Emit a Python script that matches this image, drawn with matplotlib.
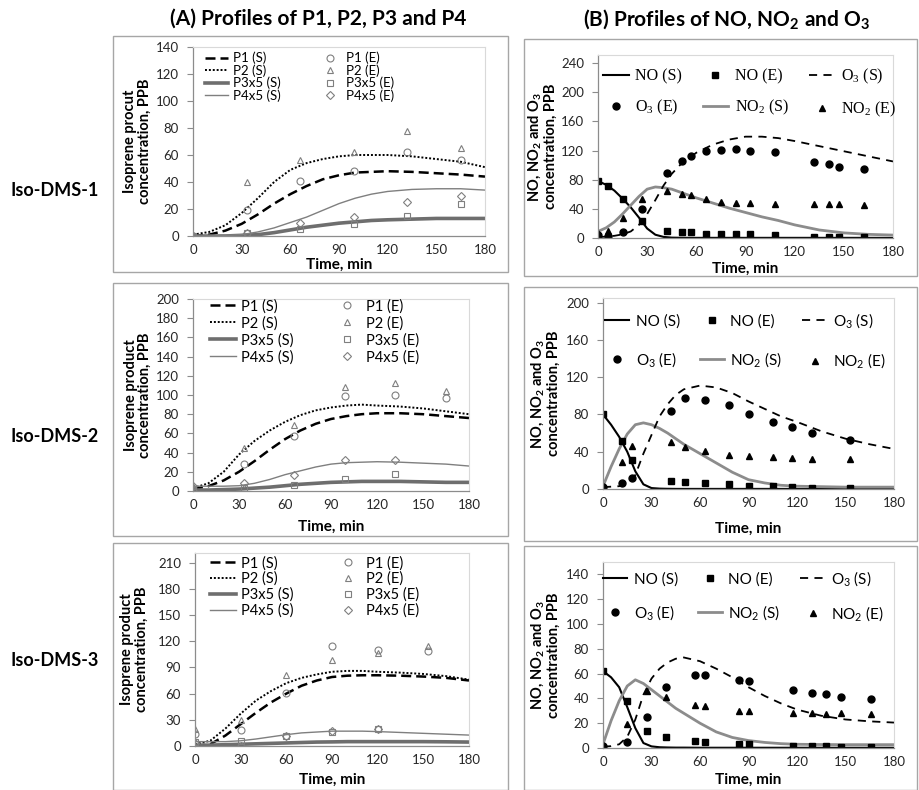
import matplotlib
matplotlib.use("Agg")
import matplotlib.pyplot as plt
from matplotlib.patches import Rectangle

plt.rcParams['font.family'] = ['Lato', 'DejaVu Sans']

W, H = 920, 790

# ---------------- data: (A) isoprene products ----------------
sim_t = [0, 10, 20, 30, 40, 50, 60, 70, 80, 90, 100, 110, 120, 135, 150, 165, 180]

a1_p1_s = [0, 1, 4, 9, 16, 24, 31, 37, 42, 45, 47, 47.5, 48, 47.5, 46.5, 45.5, 44]
a1_p2_s = [1, 3, 8, 17, 28, 40, 49, 54, 57, 59, 60, 60, 60, 59, 57, 55, 51]
a1_p3_s = [0, 0, 0, 0.5, 1, 2.5, 4.5, 6.5, 8, 9.5, 10.5, 11.5, 12, 12.5, 13, 13, 13]
a1_p4_s = [0, 0, 0.5, 1, 3, 6, 10, 14, 19, 24, 28, 31, 33, 34.5, 35, 35, 34]
a1_t_e = [0, 33, 66, 99, 132, 165]
a1_p1_e = [0, 19, 41, 48, 62, 56]
a1_p2_e = [1, 40, 56, 62, 78, 65]
a1_p3_e = [0, 2, 5, 9, 15, 24]
a1_p4_e = [0, 2, 10, 14, 25, 30]

a2_p1_s = [2, 5, 11, 20, 31, 43, 54, 63, 70, 75, 78, 80, 81, 81, 80, 78, 76]
a2_p2_s = [3, 8, 20, 38, 52, 63, 72, 79, 84, 87, 89, 90, 89, 88, 86, 83, 80]
a2_p3_s = [1, 1, 1.5, 2, 3, 4, 5.5, 7, 8, 9, 9.5, 10, 10, 10, 9.5, 9, 9]
a2_p4_s = [5, 5, 5, 5.5, 8, 12, 17, 21, 25, 28, 29.5, 30, 30.5, 30, 29, 28, 26]
a2_t_e = [0, 33, 66, 99, 132, 165]
a2_p1_e = [0, 28, 57, 99, 100, 97]
a2_p2_e = [5, 45, 69, 108, 112, 104]
a2_p3_e = [1, 3, 6, 12, 18]
a2_p4_e = [5, 8, 17, 32, 32]

a3_p1_s = [0, 2, 12, 25, 38, 50, 60, 69, 75, 79, 80.5, 81, 81, 80.5, 79.5, 78, 75]
a3_p2_s = [2, 6, 20, 37, 52, 63, 72, 78, 82, 85, 86, 86, 85, 84, 82.5, 80, 76]
a3_p3_s = [1, 1, 1.5, 2, 2.5, 3, 3.5, 4, 4.5, 4.7, 5, 5, 5, 5, 5, 4.8, 4.5]
a3_p4_s = [5, 5, 5, 6, 8, 10.5, 13, 15, 16, 17, 17, 17, 16.5, 15.5, 14.5, 13.5, 12.5]
a3_t_e = [0, 30, 60, 90, 120, 153]
a3_p1_e = [14, 18, 61, 115, 110, 109]
a3_p2_e = [19, 30, 81, 99, 107, 114]
a3_p3_e = [5, 6, 12, 16, 19]
a3_p4_e = [3, 0, 11, 17, 20]

# ---------------- data: (B) NO, NO2, O3 ----------------
bt = [0, 5, 10, 15, 20, 25, 30, 35, 40, 45, 50, 60, 70, 80, 90, 100, 110, 120, 135, 150, 165, 180]

b1_no_s = [78, 73, 65, 54, 42, 28, 13, 4.5, 1.5, 0.5, 0.3, 0.2, 0.2, 0.2, 0.2, 0.2, 0.2, 0.2, 0.2, 0.2, 0.2, 0.2]
b1_no2_s = [9, 14, 22, 33, 45, 57, 67, 70, 69, 67, 63, 55, 48, 41, 35, 29, 24, 18, 11, 7, 5, 4]
b1_o3_s = [1, 2, 3, 5, 9, 18, 33, 52, 72, 88, 100, 117, 128, 135, 139, 139, 137, 133, 126, 119, 112, 105]
b1_t_e = [0, 6, 15, 27, 42, 51, 57, 66, 75, 84, 93, 108, 132, 141, 147, 162]
b1_no_e = [78, 71, 53, 23, 10, 8, 8, 6, 5, 5, 5, 4, 2, 2, 2, 2]
b1_o3_e = [4, 3, 8, 40, 89, 105, 112, 119, 121, 122, 120, 118, 104, 101, 98, 94]
b1_no2_e = [7, 10, 27, 54, 65, 61, 59, 54, 50, 48, 48, 46, 46, 46, 46, 45]

b2_no_s = [80, 69, 56, 40, 19, 5, 1, 0.4, 0.2, 0.1, 0.1, 0.1, 0.1, 0.1, 0.1, 0.1, 0.1, 0.1, 0.1, 0.1, 0.1, 0.1]
b2_no2_s = [3, 24, 43, 59, 69, 71, 69, 65, 60, 54, 48, 38, 28, 18, 10, 6.5, 4, 3, 2.5, 2, 2, 2]
b2_o3_s = [2, 2.5, 3, 6, 15, 38, 58, 78, 91, 101, 107, 111, 109, 103, 94, 86, 78, 72, 62, 54, 48, 43]
b2_t_e = [0, 12, 18, 42, 51, 63, 78, 90, 105, 117, 129, 153]
b2_no_e = [80, 51, 31, 9, 8, 6, 5, 3.5, 3, 2.5, 1.5, 1]
b2_o3_e = [2.5, 6, 12, 84, 98, 96, 90, 81, 72, 67, 60, 53]
b2_no2_e = [3, 29, 46, 50, 45, 41, 36, 35, 34.5, 33, 32, 32]

b3_no_s = [62, 57, 49, 33, 16, 4, 1.3, 0.6, 0.4, 0.3, 0.3, 0.2, 0.2, 0.2, 0.2, 0.2, 0.2, 0.2, 0.2, 0.2, 0.2, 0.2]
b3_no2_s = [3, 22, 38, 50, 55, 52, 47, 42, 37, 32, 28, 20, 13, 8.5, 6, 4.5, 3.5, 3, 2.8, 2.7, 2.7, 2.7]
b3_o3_s = [1, 1.5, 3, 9, 23, 43, 56, 64, 69, 72, 73, 70, 64, 57, 49, 42, 36, 31, 26, 23, 21.5, 20.5]
b3_t_e = [0, 15, 27.5, 39, 57, 63, 84, 90.5, 117.5, 129.5, 138, 147.5, 165.5]
b3_no_e = [62, 38, 14, 8.5, 6, 5, 3.5, 3.2, 2, 2, 1.3, 0.5, 0.5]
b3_o3_e = [2, 5, 25, 49, 59, 59, 55, 54, 47, 44.5, 43.5, 41.5, 39.5]
b3_no2_e = [2, 19, 46, 41, 35, 34, 30, 30, 28.5, 28, 27.5, 28.5, 27.5]

x_ticks = [0, 30, 60, 90, 120, 150, 180]

fig = plt.figure(figsize=(W / 100, H / 100), dpi=100)


def fr(x0, y0, x1, y1):
    # pixel box (top-left origin) -> figure fraction rect
    return [x0 / W, 1 - y1 / H, (x1 - x0) / W, (y1 - y0) / H]


# chart frames like in the Excel screenshot
for box in [(113, 36, 508, 272), (524, 39, 917, 276),
            (113, 283, 508, 536), (524, 287, 917, 541),
            (113, 543, 508, 790), (524, 546, 917, 790)]:
    x0, y0, x1, y1 = box
    fig.add_artist(Rectangle((x0 / W, 1 - y1 / H), (x1 - x0) / W, (y1 - y0) / H,
                             transform=fig.transFigure, fill=False,
                             edgecolor='#a6a6a6', lw=1.0))


def style_axes(ax, ymax, ystep, ytop):
    ax.set_xlim(0, 180)
    ax.set_ylim(0, ytop)
    ax.set_xticks(x_ticks)
    ax.set_yticks(list(range(0, ymax + 1, ystep)))
    for s in ['top', 'right']:
        ax.spines[s].set_color('#d9d9d9')
        ax.spines[s].set_linewidth(0.8)
    for s in ['left', 'bottom']:
        ax.spines[s].set_color('#8c8c8c')
        ax.spines[s].set_linewidth(0.9)
    ax.tick_params(axis='y', direction='out', length=4, width=0.8, color='#8c8c8c',
                   pad=6, labelsize=9.5, labelcolor='#262626')
    ax.tick_params(axis='x', length=0, pad=6, labelsize=9.5, labelcolor='#262626')


gray_e = '#7f7f7f'


def panel_a(rect, p1, p2, p3, p4, te, p1e, p2e, p3e, p4e, ymax, ystep, ytop,
            ylabel, ylab_x, xlab_y, leg_xy, leg_fs, leg_sp):
    ax = fig.add_axes(rect)
    l1, = ax.plot(sim_t, p1, color='black', lw=1.8, dashes=(4, 2))
    l2, = ax.plot(sim_t, p2, color='black', lw=1.4, linestyle=(0, (1, 1)))
    l3, = ax.plot(sim_t, p3, color='#6e6e6e', lw=2.6)
    l4, = ax.plot(sim_t, p4, color='#7f7f7f', lw=1.0)
    mk = dict(linestyle='none', mfc='none', mec=gray_e, mew=0.8)
    m1, = ax.plot(te, p1e, marker='o', ms=5, **mk)
    m2, = ax.plot(te, p2e, marker='^', ms=5, **mk)
    m3, = ax.plot(te[:len(p3e)], p3e, marker='s', ms=5, **mk)
    m4, = ax.plot(te[:len(p4e)], p4e, marker='D', ms=4, **mk)
    style_axes(ax, ymax, ystep, ytop)
    ax.set_ylabel(ylabel, fontsize=10.5, fontweight='bold', va='center', linespacing=1.05)
    ax.yaxis.set_label_coords(ylab_x, 0.5)
    ax.set_xlabel('Time, min', fontsize=11, fontweight='bold', va='center')
    ax.xaxis.set_label_coords(0.5, xlab_y)
    ax.legend([l1, l2, l3, l4, m1, m2, m3, m4],
              ['P1 (S)', 'P2 (S)', 'P3x5 (S)', 'P4x5 (S)',
               'P1 (E)', 'P2 (E)', 'P3x5 (E)', 'P4x5 (E)'],
              ncol=2, loc='upper left', bbox_to_anchor=leg_xy, frameon=False,
              fontsize=leg_fs, borderpad=0, borderaxespad=0, handlelength=1.8,
              handletextpad=0.35, columnspacing=2.8, labelspacing=leg_sp)
    return ax


def panel_b(rect, no_s, no2_s, o3_s, te, no_e, o3_e, no2_e, ymax, ystep, ytop,
            ylab_x, xlab_y, leg_xy, leg_sp, serif):
    ax = fig.add_axes(rect)
    h_no, = ax.plot(bt, no_s, color='black', lw=1.5)
    h_no2, = ax.plot(bt, no2_s, color='#8c8c8c', lw=2.0)
    h_o3, = ax.plot(bt, o3_s, color='black', lw=1.3, dashes=(4.5, 3.5))
    e_no, = ax.plot(te, no_e, 's', color='black', ms=5, linestyle='none')
    e_o3, = ax.plot(te, o3_e, 'o', color='black', ms=5, linestyle='none')
    e_no2, = ax.plot(te, no2_e, '^', color='black', ms=4.5, linestyle='none')
    style_axes(ax, ymax, ystep, ytop)
    ax.set_ylabel('NO, NO$\\mathregular{_2}$ and O$\\mathregular{_3}$\nconcentration, PPB',
                  fontsize=10.5, fontweight='bold', va='center', linespacing=1.05)
    ax.yaxis.set_label_coords(ylab_x, 0.5)
    ax.set_xlabel('Time, min', fontsize=11, fontweight='bold', va='center')
    ax.xaxis.set_label_coords(0.5, xlab_y)
    if serif:
        prop = {'family': ['Liberation Serif', 'DejaVu Serif'], 'size': 11.5}
    else:
        prop = {'size': 11}
    ax.legend([h_no, e_o3, e_no, h_no2, h_o3, e_no2],
              ['NO (S)', 'O$\\mathregular{_3}$ (E)', 'NO (E)',
               'NO$\\mathregular{_2}$ (S)', 'O$\\mathregular{_3}$ (S)',
               'NO$\\mathregular{_2}$ (E)'],
              ncol=3, loc='upper left', bbox_to_anchor=leg_xy, frameon=False,
              prop=prop, borderpad=0, borderaxespad=0, handlelength=1.6,
              handletextpad=0.4, columnspacing=1.3, labelspacing=leg_sp)
    return ax


panel_a(fr(193, 47, 485, 236), a1_p1_s, a1_p2_s, a1_p3_s, a1_p4_s,
        a1_t_e, a1_p1_e, a1_p2_e, a1_p3_e, a1_p4_e, 140, 20, 140,
        'Isoprene procut\nconcentration, PPB', -0.19, -0.152, (0.04, 0.975), 9.5, 0.0)
panel_a(fr(193, 299, 469, 491), a2_p1_s, a2_p2_s, a2_p3_s, a2_p4_s,
        a2_t_e, a2_p1_e, a2_p2_e, a2_p3_e, a2_p4_e, 200, 20, 200,
        'Isoprene product\nconcentration, PPB', -0.2, -0.1875, (0.06, 1.0), 10.5, 0.18)
panel_a(fr(195, 553, 469, 746), a3_p1_s, a3_p2_s, a3_p3_s, a3_p4_s,
        a3_t_e, a3_p1_e, a3_p2_e, a3_p3_e, a3_p4_e, 210, 30, 221,
        'Isoprene product\nconcentration, PPB', -0.22, -0.176, (0.055, 0.985), 10.5, 0.1)

panel_b(fr(598, 55, 893, 238), b1_no_s, b1_no2_s, b1_o3_s, b1_t_e, b1_no_e, b1_o3_e,
        b1_no2_e, 240, 40, 251, -0.19, -0.17, (0.017, 0.935), 0.85, True)
panel_b(fr(603, 298, 894, 489), b2_no_s, b2_no2_s, b2_o3_s, b2_t_e, b2_no_e, b2_o3_e,
        b2_no2_e, 200, 40, 205, -0.2, -0.21, (0.007, 0.93), 1.4, False)
panel_b(fr(603, 562, 894, 748), b3_no_s, b3_no2_s, b3_o3_s, b3_t_e, b3_no_e, b3_o3_e,
        b3_no2_e, 140, 20, 150, -0.2, -0.172, (0.0, 0.96), 1.05, False)

# column titles and row labels
fig.text(318 / W, 1 - 19 / H, '(A) Profiles of P1, P2, P3 and P4', ha='center', va='center',
         fontsize=15, fontweight='bold')
fig.text(727 / W, 1 - 19 / H, '(B) Profiles of NO, NO$\\mathregular{_2}$ and O$\\mathregular{_3}$',
         ha='center', va='center', fontsize=15, fontweight='bold')
for lab, yy in [('Iso-DMS-1', 190), ('Iso-DMS-2', 437), ('Iso-DMS-3', 660)]:
    fig.text(55 / W, 1 - yy / H, lab, ha='center', va='center', fontsize=13, fontweight='bold')

fig.savefig('out.png', dpi=100, facecolor='white')
